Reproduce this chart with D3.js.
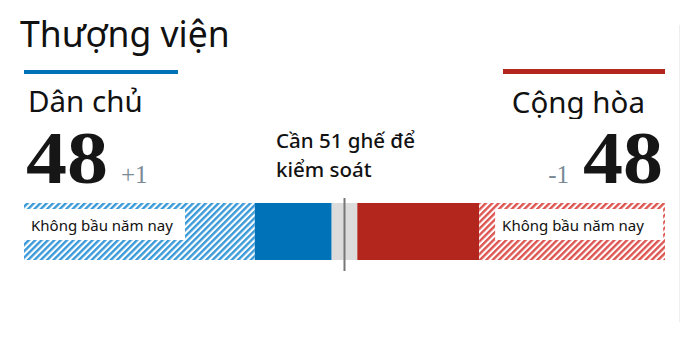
<!DOCTYPE html>
<html>
<head>
<meta charset="utf-8">
<script src="https://cdn.jsdelivr.net/npm/d3@7"></script>
<style>
	body { margin: 0; background: #fff; }
	text { font-family: "Noto Sans", "Open Sans", sans-serif; }
	text.num { font-family: "Liberation Serif", "DejaVu Serif", serif; }
</style>
</head>
<body>
<div id="chart-area"></div>
<script>
const width = 680
const height = 346

// data
const parties = ["Dân chủ", "Cộng hòa"]
const seats = [48, 48]
const notUp = [36, 29]
const changes = ["+1", "-1"]
const totalSeats = 100
const needed = 51
const notUpLabel = "Không bầu năm nay"

const blue = "#0072b8"
const red = "#b3261e"

let svg = d3.select('#chart-area')
	.append('svg')
	.attr('width', width)
	.attr('height', height)

let defs = svg.append('defs')

// hatch patterns
function hatch(id, color) {
	let p = defs.append('pattern')
		.attr('id', id)
		.attr('patternUnits', 'userSpaceOnUse')
		.attr('width', 4.5)
		.attr('height', 4.5)
		.attr('patternTransform', 'rotate(45)')
	p.append('rect').attr('width', 4.5).attr('height', 4.5).attr('fill', '#fff')
	p.append('rect').attr('width', 2.4).attr('height', 4.5).attr('fill', color)
}
hatch('hatch-d', '#3a9ad9')
hatch('hatch-r', '#dd5550')

defs.append('clipPath').attr('id', 'clip-head')
	.append('rect').attr('x', 0).attr('y', 0).attr('width', width).attr('height', 119)

// x scale over the seats
const xScale = d3.scaleLinear()
	.domain([0, totalSeats])
	.range([24, 665])

// segments: dem not up, dem, toss-up, rep, rep not up
const segments = [
	{ from: 0, to: notUp[0], fill: 'url(#hatch-d)' },
	{ from: notUp[0], to: seats[0], fill: blue },
	{ from: seats[0], to: totalSeats - seats[1], fill: '#dcdcdc' },
	{ from: totalSeats - seats[1], to: totalSeats - notUp[1], fill: red },
	{ from: totalSeats - notUp[1], to: totalSeats, fill: 'url(#hatch-r)' }
]

const barTop = 203
const barH = 57

svg.append('text')
	.attr('x', 20)
	.attr('y', 47)
	.attr('font-size', 35.5)
	.attr('fill', '#111')
	.text('Thượng viện')

// top colored rules
svg.append('rect')
	.attr('x', xScale(0)).attr('y', 70)
	.attr('width', 154).attr('height', 4)
	.attr('fill', blue)
svg.append('rect')
	.attr('x', xScale(totalSeats) - 162).attr('y', 69)
	.attr('width', 162).attr('height', 5)
	.attr('fill', red)

let head = svg.append('g').attr('clip-path', 'url(#clip-head)')
head.append('text')
	.attr('x', 28).attr('y', 112)
	.attr('font-size', 29.5)
	.attr('fill', '#111')
	.text(parties[0])
head.append('text')
	.attr('x', 645).attr('y', 113)
	.attr('text-anchor', 'end')
	.attr('font-size', 29.5)
	.attr('fill', '#111')
	.text(parties[1])

// big numbers
svg.append('text')
	.attr('class', 'num')
	.attr('x', 26).attr('y', 183)
	.attr('font-weight', 'bold')
	.attr('font-size', 75)
	.attr('textLength', 82)
	.attr('lengthAdjust', 'spacingAndGlyphs')
	.attr('fill', '#161616')
	.text(seats[0])
svg.append('text')
	.attr('class', 'num')
	.attr('x', 121).attr('y', 183)
	.attr('font-size', 25)
	.attr('fill', '#7a8a96')
	.text(changes[0])

svg.append('text')
	.attr('class', 'num')
	.attr('x', 583).attr('y', 183)
	.attr('font-weight', 'bold')
	.attr('font-size', 75)
	.attr('textLength', 80)
	.attr('lengthAdjust', 'spacingAndGlyphs')
	.attr('fill', '#161616')
	.text(seats[1])
svg.append('text')
	.attr('class', 'num')
	.attr('x', 569).attr('y', 183)
	.attr('text-anchor', 'end')
	.attr('font-size', 25)
	.attr('fill', '#7a8a96')
	.text(changes[1])

// control label
let ctl = svg.append('text')
	.attr('x', 276).attr('y', 148)
	.attr('font-size', 20.5)
	.attr('font-weight', 500)
	.attr('fill', '#111')
ctl.append('tspan').text('Cần ' + needed + ' ghế để')
ctl.append('tspan').attr('x', 276).attr('dy', 29).text('kiểm soát')

// bar
svg.append('g')
	.selectAll('rect')
	.data(segments)
	.enter()
	.append('rect')
	.attr('x', d => xScale(d.from))
	.attr('y', barTop)
	.attr('width', d => xScale(d.to) - xScale(d.from))
	.attr('height', barH)
	.attr('fill', d => d.fill)

// not up labels
let lbl = [
	{ x: xScale(0), w: 161 },
	{ x: xScale(totalSeats - notUp[1]) + 16, w: 168 }
]
lbl.forEach(b => {
	svg.append('rect')
		.attr('x', b.x).attr('y', 209)
		.attr('width', b.w).attr('height', 31)
		.attr('fill', '#fff')
	svg.append('text')
		.attr('x', b.x + 7).attr('y', 231)
		.attr('font-size', 15)
		.attr('fill', '#111')
		.text(notUpLabel)
})

// majority line
svg.append('line')
	.attr('x1', xScale(totalSeats / 2)).attr('x2', xScale(totalSeats / 2))
	.attr('y1', 198).attr('y2', 271)
	.attr('stroke', '#777')
	.attr('stroke-width', 2)

// faint right border
svg.append('line')
	.attr('x1', 679.5).attr('x2', 679.5)
	.attr('y1', 25).attr('y2', 322)
	.attr('stroke', '#eee')
</script>
</body>
</html>
